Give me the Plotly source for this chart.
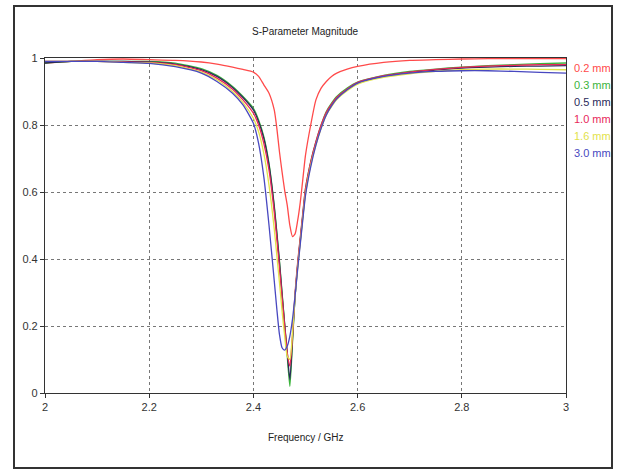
import plotly.graph_objects as go

# ---- data ----
freq_ghz = [2.0, 2.05, 2.1, 2.15, 2.2, 2.25, 2.3, 2.33, 2.36, 2.38, 2.4, 2.41, 2.42, 2.43,
            2.44, 2.445, 2.45, 2.455, 2.46, 2.465, 2.47, 2.475, 2.48, 2.485, 2.49, 2.495,
            2.5, 2.51, 2.52, 2.53, 2.54, 2.55, 2.56, 2.58, 2.6, 2.65, 2.7, 2.75, 2.8,
            2.85, 2.9, 2.95, 3.0]

s_02mm = [0.985, 0.99, 0.995, 0.997, 0.995, 0.993, 0.988, 0.982, 0.973, 0.966, 0.958, 0.945,
          0.92, 0.895, 0.845, 0.79, 0.72, 0.66, 0.605, 0.56, 0.50, 0.467, 0.475, 0.515, 0.57,
          0.64, 0.71, 0.80, 0.875, 0.91, 0.93, 0.945, 0.955, 0.967, 0.975, 0.987, 0.993,
          0.995, 0.997, 0.998, 0.998, 0.998, 0.998]

s_03mm = [0.985, 0.99, 0.99, 0.99, 0.99, 0.985, 0.968, 0.948, 0.915, 0.885, 0.85, 0.815,
          0.765, 0.685, 0.56, 0.48, 0.395, 0.30, 0.205, 0.11, 0.02, 0.15, 0.29, 0.385, 0.46,
          0.535, 0.61, 0.69, 0.75, 0.80, 0.84, 0.865, 0.885, 0.91, 0.928, 0.948, 0.96,
          0.967, 0.973, 0.977, 0.98, 0.983, 0.985]

s_05mm = [0.985, 0.99, 0.99, 0.99, 0.988, 0.982, 0.965, 0.945, 0.912, 0.882, 0.845, 0.81,
          0.76, 0.68, 0.555, 0.475, 0.39, 0.295, 0.205, 0.12, 0.04, 0.16, 0.29, 0.38, 0.455,
          0.53, 0.60, 0.685, 0.745, 0.795, 0.835, 0.86, 0.88, 0.905, 0.925, 0.945, 0.957,
          0.964, 0.97, 0.973, 0.975, 0.976, 0.977]

s_10mm = [0.99, 0.99, 0.99, 0.988, 0.987, 0.98, 0.962, 0.94, 0.907, 0.875, 0.835, 0.80,
          0.745, 0.665, 0.54, 0.46, 0.375, 0.285, 0.20, 0.12, 0.08, 0.17, 0.30, 0.39, 0.465,
          0.54, 0.61, 0.69, 0.75, 0.80, 0.838, 0.862, 0.882, 0.907, 0.927, 0.947, 0.958,
          0.966, 0.972, 0.976, 0.978, 0.98, 0.98]

s_16mm = [0.99, 0.99, 0.99, 0.987, 0.985, 0.977, 0.958, 0.935, 0.90, 0.867, 0.82, 0.78,
          0.715, 0.62, 0.49, 0.41, 0.33, 0.245, 0.17, 0.11, 0.10, 0.18, 0.29, 0.375, 0.45,
          0.525, 0.595, 0.68, 0.74, 0.79, 0.83, 0.855, 0.876, 0.902, 0.922, 0.942, 0.953,
          0.96, 0.965, 0.967, 0.967, 0.966, 0.965]

s_30mm = [0.99, 0.99, 0.99, 0.987, 0.984, 0.974, 0.955, 0.93, 0.895, 0.86, 0.805, 0.745,
          0.645, 0.50, 0.335, 0.25, 0.175, 0.135, 0.128, 0.14, 0.17, 0.22, 0.29, 0.37, 0.445,
          0.52, 0.59, 0.675, 0.74, 0.79, 0.83, 0.857, 0.878, 0.905, 0.925, 0.945, 0.955,
          0.96, 0.962, 0.962, 0.96, 0.957, 0.955]

series_names = ["0.2 mm", "0.3 mm", "0.5 mm", "1.0 mm", "1.6 mm", "3.0 mm"]
series_values = [s_02mm, s_03mm, s_05mm, s_10mm, s_16mm, s_30mm]
series_colors = ["#ff4a4a", "#3cb43c", "#2a2a5a", "#e8285a", "#e2e24a", "#4848c0"]

x_ticks = [2, 2.2, 2.4, 2.6, 2.8, 3]
x_tick_labels = ["2", "2.2", "2.4", "2.6", "2.8", "3"]
y_ticks = [0, 0.2, 0.4, 0.6, 0.8, 1]
y_tick_labels = ["0", "0.2", "0.4", "0.6", "0.8", "1"]

FONT = "Liberation Sans, Arial, sans-serif"

fig = go.Figure()
for name, vals, col in zip(series_names, series_values, series_colors):
    fig.add_trace(go.Scatter(x=freq_ghz, y=vals, mode="lines", name=name,
                             line=dict(color=col, width=1.3, shape="spline", smoothing=0.6),
                             showlegend=False))

# legend as coloured text at right
for i, (name, col) in enumerate(zip(series_names, series_colors)):
    fig.add_annotation(text=name, xref="paper", yref="paper", x=1.011, y=0.970 - i * 0.0507,
                       xanchor="left", yanchor="middle", showarrow=False,
                       font=dict(family=FONT, size=11, color=col))

fig.add_annotation(text="S-Parameter Magnitude", xref="paper", yref="paper", x=0.5, y=1.078,
                   xanchor="center", yanchor="middle", showarrow=False,
                   font=dict(family=FONT, size=10, color="#222"))
fig.add_annotation(text="Frequency / GHz", xref="paper", yref="paper", x=0.5, y=-0.134,
                   xanchor="center", yanchor="middle", showarrow=False,
                   font=dict(family=FONT, size=10, color="#222"))

# outer frame
fig.add_shape(type="rect", xref="paper", yref="paper", x0=-0.0595, x1=1.0883, y0=-0.224, y1=1.155,
              line=dict(color="#333", width=2), fillcolor="rgba(0,0,0,0)", layer="below")

axis_common = dict(showline=True, linecolor="#333", linewidth=1.2, mirror=True,
                   ticks="outside", ticklen=4, tickcolor="#333",
                   showgrid=True, gridcolor="#777", griddash="dot", gridwidth=1,
                   zeroline=False, tickfont=dict(family=FONT, size=11, color="#333"))

fig.update_xaxes(range=[2, 3], tickvals=x_ticks, ticktext=x_tick_labels, **axis_common)
fig.update_yaxes(range=[0, 1], tickvals=y_ticks, ticktext=y_tick_labels, **axis_common)

fig.update_layout(width=622, height=472, margin=dict(l=45, r=56, t=58, b=79),
                  paper_bgcolor="white", plot_bgcolor="white")

fig.write_html("out.html", config={"displayModeBar": False},
               post_script="document.body.style.margin='0';")
